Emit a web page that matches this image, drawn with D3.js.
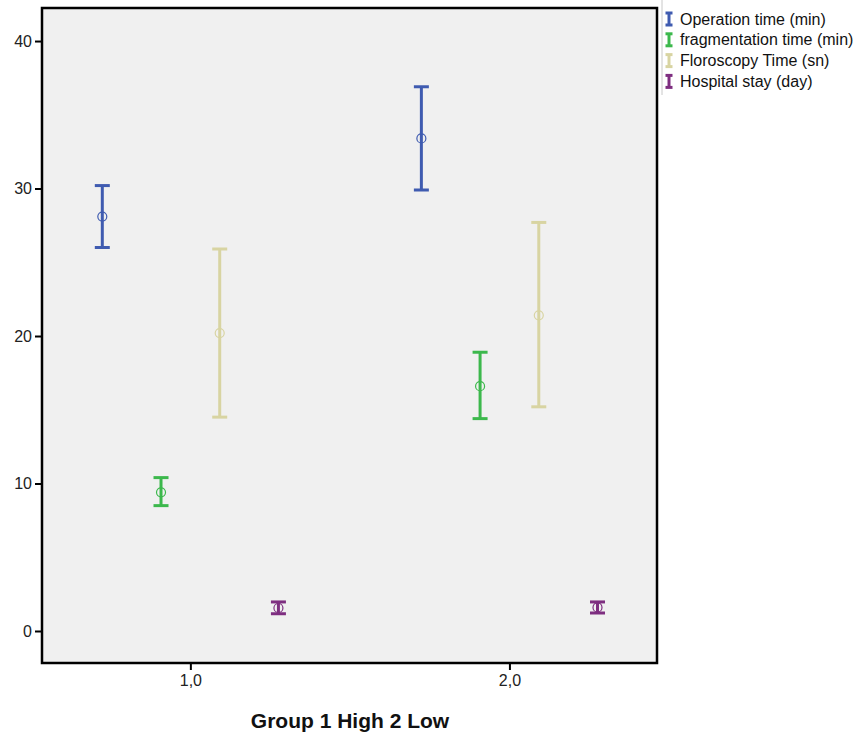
<!DOCTYPE html>
<html>
<head>
<meta charset="utf-8">
<script src="https://cdn.jsdelivr.net/npm/d3@7"></script>
<style>
  body { margin: 0; background: #fff; }
  svg { font-family: "Liberation Sans", Arial, sans-serif; }
</style>
</head>
<body>
<svg></svg>
<script>
// Data
const groups = [1, 2];
const seriesNames = ["Operation time (min)", "fragmentation time (min)", "Floroscopy Time (sn)", "Hospital stay (day)"];
const seriesColors = ["#3f5bb0", "#3cb84c", "#d8d4a2", "#7e2e80"];
const seriesOffsets = [-0.276, -0.092, 0.092, 0.276];
const means = [[28.1, 33.4], [9.4, 16.6], [20.2, 21.4], [1.56, 1.6]];
const lows = [[26.0, 29.9], [8.5, 14.4], [14.5, 15.2], [1.17, 1.22]];
const highs = [[30.2, 36.9], [10.4, 18.9], [25.9, 27.7], [1.97, 1.97]];
const yTicks = [0, 10, 20, 30, 40];
const xTicks = [1, 2];

const svgWidth = 856;
const svgHeight = 738;
const plot = {left: 42, right: 657, top: 8, bottom: 663};

const scaleX = d3.scaleLinear()
	.domain([0.535, 2.4625])
	.range([plot.left, plot.right]);

const scaleY = d3.scaleLinear()
	.domain([-2.17, 42.24])
	.range([plot.bottom, plot.top]);

const chart = d3.select('svg')
	.attr('width', svgWidth)
	.attr('height', svgHeight);

// Plot background
chart.append("rect")
	.attr("x", plot.left)
	.attr("y", plot.top)
	.attr("width", plot.right - plot.left)
	.attr("height", plot.bottom - plot.top)
	.attr("fill", "#f0f0f0");

// Build points
const points = [];
seriesNames.forEach((name, s) => {
	groups.forEach((g, i) => {
		points.push({
			x: g + seriesOffsets[s],
			mean: means[s][i],
			low: lows[s][i],
			high: highs[s][i],
			color: seriesColors[s]
		});
	});
});

const capHalf = 7.5;
const bars = chart.append("g").selectAll("g")
	.data(points)
	.join("g");

bars.append("line")
	.attr("x1", d => scaleX(d.x))
	.attr("x2", d => scaleX(d.x))
	.attr("y1", d => scaleY(d.low))
	.attr("y2", d => scaleY(d.high))
	.attr("stroke", d => d.color)
	.attr("stroke-width", 3);

bars.selectAll(".cap")
	.data(d => [d.low, d.high].map(v => ({v, d})))
	.join("line")
	.attr("x1", p => scaleX(p.d.x) - capHalf)
	.attr("x2", p => scaleX(p.d.x) + capHalf)
	.attr("y1", p => scaleY(p.v))
	.attr("y2", p => scaleY(p.v))
	.attr("stroke", p => p.d.color)
	.attr("stroke-width", 3);

bars.append("circle")
	.attr("cx", d => scaleX(d.x))
	.attr("cy", d => scaleY(d.mean))
	.attr("r", 4.5)
	.attr("fill", "none")
	.attr("stroke", d => d.color)
	.attr("stroke-width", 1.2);

// Frame
chart.append("rect")
	.attr("x", plot.left)
	.attr("y", plot.top)
	.attr("width", plot.right - plot.left)
	.attr("height", plot.bottom - plot.top)
	.attr("fill", "none")
	.attr("stroke", "#000")
	.attr("stroke-width", 2.5);

// Y axis
chart.append("g")
	.attr("transform", `translate(${plot.left - 1}, 0)`)
	.call(d3.axisLeft(scaleY).tickValues(yTicks).tickSize(6).tickPadding(3))
	.call(g => g.select(".domain").remove())
	.call(g => g.selectAll("line").attr("stroke-width", 2))
	.call(g => g.selectAll("text").attr("font-size", 16).attr("fill", "#222").attr("font-family", "Liberation Sans, Arial"));

// X axis
chart.append("g")
	.attr("transform", `translate(0, ${plot.bottom + 1})`)
	.call(d3.axisBottom(scaleX).tickValues(xTicks).tickSize(6).tickPadding(5)
		.tickFormat(d => d3.format(".1f")(d).replace(".", ",")))
	.call(g => g.select(".domain").remove())
	.call(g => g.selectAll("line").attr("stroke-width", 2))
	.call(g => g.selectAll("text").attr("font-size", 16).attr("fill", "#222").attr("font-family", "Liberation Sans, Arial"));

// X axis title
chart.append("text")
	.attr("x", 350)
	.attr("y", 728)
	.attr("text-anchor", "middle")
	.attr("font-size", 21)
	.attr("font-weight", "bold")
	.attr("fill", "#111")
	.text("Group 1 High 2 Low");

// Legend
chart.append("line")
	.attr("x1", 662).attr("x2", 662)
	.attr("y1", 0).attr("y2", 95)
	.attr("stroke", "#c8c8c8")
	.attr("stroke-width", 1);

const legend = chart.append("g")
	.selectAll("g")
	.data(seriesNames)
	.join("g")
	.attr("transform", (d, i) => `translate(669, ${19 + i * 20.8})`);

legend.append("line")
	.attr("x1", 0).attr("x2", 0)
	.attr("y1", -6).attr("y2", 6)
	.attr("stroke", (d, i) => seriesColors[i])
	.attr("stroke-width", 3);

legend.selectAll(".lcap")
	.data((d, i) => [-6, 6].map(y => ({y, c: seriesColors[i]})))
	.join("line")
	.attr("x1", -3.5).attr("x2", 3.5)
	.attr("y1", p => p.y).attr("y2", p => p.y)
	.attr("stroke", p => p.c)
	.attr("stroke-width", 3);

legend.append("text")
	.attr("x", 11)
	.attr("y", 5.5)
	.attr("font-size", 16)
	.attr("fill", "#111")
	.text(d => d);
</script>
</body>
</html>
